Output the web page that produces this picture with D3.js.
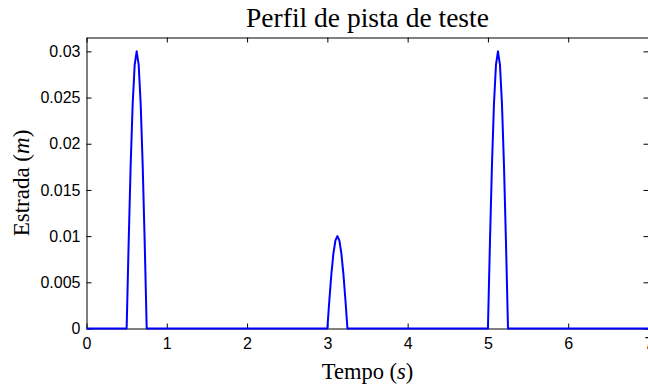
<!DOCTYPE html>
<html>
<head>
<meta charset="utf-8">
<script src="https://cdn.jsdelivr.net/npm/d3@7"></script>
<style>
  html, body { margin: 0; padding: 0; background: #fff; }
  svg { display: block; }
</style>
</head>
<body>
<svg id="chart" width="648" height="388"></svg>
<script>
// Road profile: time (s) and road height (m), three half-sine bumps
const tempo = [
  0,
  0.5, 0.525, 0.55, 0.575, 0.6, 0.625, 0.65, 0.675, 0.7, 0.725, 0.75,
  3.0, 3.025, 3.05, 3.075, 3.1, 3.125, 3.15, 3.175, 3.2, 3.225, 3.25,
  5.0, 5.025, 5.05, 5.075, 5.1, 5.125, 5.15, 5.175, 5.2, 5.225, 5.25,
  7
];
const estrada = [
  0,
  0, 0.00927, 0.01763, 0.02427, 0.02853, 0.03, 0.02853, 0.02427, 0.01763, 0.00927, 0,
  0, 0.00309, 0.00588, 0.00809, 0.00951, 0.01, 0.00951, 0.00809, 0.00588, 0.00309, 0,
  0, 0.00927, 0.01763, 0.02427, 0.02853, 0.03, 0.02853, 0.02427, 0.01763, 0.00927, 0,
  0
];
const xTicks = [0, 1, 2, 3, 4, 5, 6, 7];
const yTicks = [0, 0.005, 0.01, 0.015, 0.02, 0.025, 0.03];

const svg = d3.select("#chart");
const plotL = 86.5, plotR = 648.5, plotT = 37.5, plotB = 328.5;

const x = d3.scaleLinear().domain([0, 7]).range([plotL, plotR]);
const y = d3.scaleLinear().domain([0, 0.0315]).range([plotB, plotT]);

const tickFont = "'Liberation Sans', Arial, Helvetica, sans-serif";
const serif = "'Liberation Serif', 'Times New Roman', serif";
const tickLen = 5;

// Axes with inward ticks on all four sides
const fmtY = d => d === 0 ? "0" : String(+d.toFixed(3));

const gB = svg.append("g").attr("transform", `translate(0,${plotB})`)
  .call(d3.axisBottom(x).tickValues(xTicks).tickSizeInner(-tickLen).tickSizeOuter(0).tickPadding(9).tickFormat(d3.format("d")));
const gT = svg.append("g").attr("transform", `translate(0,${plotT})`)
  .call(d3.axisTop(x).tickValues(xTicks).tickSizeInner(-tickLen).tickSizeOuter(0).tickFormat(""));
const gL = svg.append("g").attr("transform", `translate(${plotL},0)`)
  .call(d3.axisLeft(y).tickValues(yTicks).tickSizeInner(-tickLen).tickSizeOuter(0).tickPadding(6).tickFormat(fmtY));
const gR = svg.append("g").attr("transform", `translate(${plotR},0)`)
  .call(d3.axisRight(y).tickValues(yTicks).tickSizeInner(-tickLen).tickSizeOuter(0).tickFormat(""));

[gB, gT, gL, gR].forEach(g => {
  g.select(".domain").attr("stroke", "#000").attr("stroke-width", 1);
  g.selectAll(".tick line").attr("stroke", "#000").attr("stroke-width", 1);
  g.selectAll(".tick text").attr("fill", "#000")
    .style("font-family", tickFont).style("font-size", "16px");
});

// Road profile line
const line = d3.line().x((d, i) => x(tempo[i])).y(d => y(d));
svg.append("path")
  .datum(estrada)
  .attr("d", line)
  .attr("fill", "none")
  .attr("stroke", "#0000ff")
  .attr("stroke-width", 2)
  .attr("stroke-linejoin", "round");

// Title and axis labels
svg.append("text")
  .attr("x", (plotL + plotR) / 2).attr("y", 27)
  .attr("text-anchor", "middle")
  .style("font-family", serif).style("font-size", "27.5px")
  .text("Perfil de pista de teste");

const xl = svg.append("text")
  .attr("x", (plotL + plotR) / 2).attr("y", 379)
  .attr("text-anchor", "middle")
  .style("font-family", serif).style("font-size", "22.5px");
xl.append("tspan").text("Tempo (");
xl.append("tspan").style("font-style", "italic").text("s");
xl.append("tspan").text(")");

const yl = svg.append("text")
  .attr("transform", `translate(29,${(plotT + plotB) / 2}) rotate(-90)`)
  .attr("text-anchor", "middle")
  .style("font-family", serif).style("font-size", "23px");
yl.append("tspan").text("Estrada (");
yl.append("tspan").style("font-style", "italic").text("m");
yl.append("tspan").text(")");
</script>
</body>
</html>
